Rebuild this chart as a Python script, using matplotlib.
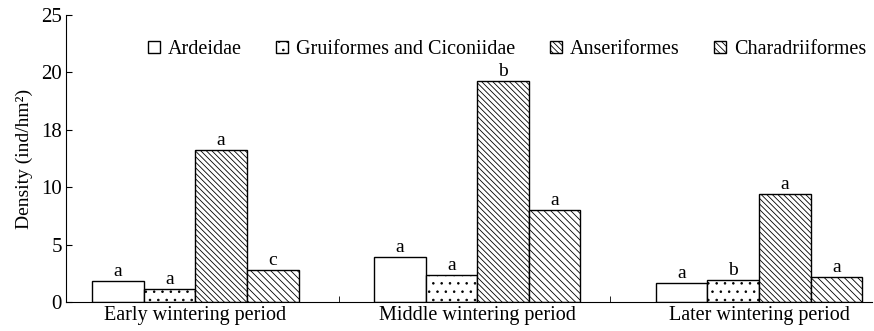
import numpy as np
import matplotlib
matplotlib.use("Agg")
import matplotlib.pyplot as plt

plt.rcParams['font.family'] = ['Liberation Serif', 'DejaVu Serif']
plt.rcParams['hatch.linewidth'] = 0.6

periods = ["Early wintering period", "Middle wintering period", "Later wintering period"]
groups = ["Ardeidae", "Gruiformes and Ciconiidae", "Anseriformes", "Charadriiformes"]
ardeidae = [1.83, 3.89, 1.63]
gruiformes = [1.16, 2.35, 1.92]
anseriformes = [13.2, 19.28, 9.38]
charadriiformes = [2.79, 8.01, 2.15]
letters = [["a", "a", "a"], ["a", "a", "b"], ["a", "b", "a"], ["c", "a", "a"]]
ytick_labels = ["0", "5", "10", "18", "20", "25"]

series = [ardeidae, gruiformes, anseriformes, charadriiformes]
hatches = ["", "..", "\\\\\\\\\\\\", "\\\\\\\\\\"]

fig = plt.figure(figsize=(8.74, 3.31), dpi=100)
ax = fig.add_axes([0.0755, 0.0876, 0.922, 0.867])

x = np.arange(len(periods))
w = 0.183
for i, (vals, h, lab) in enumerate(zip(series, hatches, groups)):
    pos = x + (i - 1.5) * w
    ax.bar(pos, vals, width=w, facecolor="white", edgecolor="black",
           linewidth=1.0, hatch=h, label=lab)
    for px, v, t in zip(pos, vals, letters[i]):
        ax.text(px, v + 0.1, t, ha="center", va="bottom", fontsize=14)

ax.set_xlim(-0.459, 2.40)
ax.set_ylim(0, 25)
ax.set_yticks(np.arange(0, 26, 5))
ax.set_yticklabels(ytick_labels, fontsize=15)
ax.set_xticks(x)
ax.set_xticklabels(periods, fontsize=14.5)
ax.tick_params(axis="x", length=0, pad=3)
ax.set_xticks([0.51, 1.47], minor=True)
ax.tick_params(axis="x", which="minor", direction="in", length=4)
ax.tick_params(axis="y", direction="in", length=4, pad=3)
ax.spines["top"].set_visible(False)
ax.spines["right"].set_visible(False)
ax.set_ylabel("Density (ind/hm²)", fontsize=14, labelpad=6)

ax.legend(loc="upper right", bbox_to_anchor=(1.008, 0.955), ncol=4, frameon=False,
          fontsize=14.5, handlelength=0.6, handleheight=0.6, handletextpad=0.4,
          columnspacing=1.7, borderaxespad=0.2)

fig.savefig("out.png", dpi=100)
